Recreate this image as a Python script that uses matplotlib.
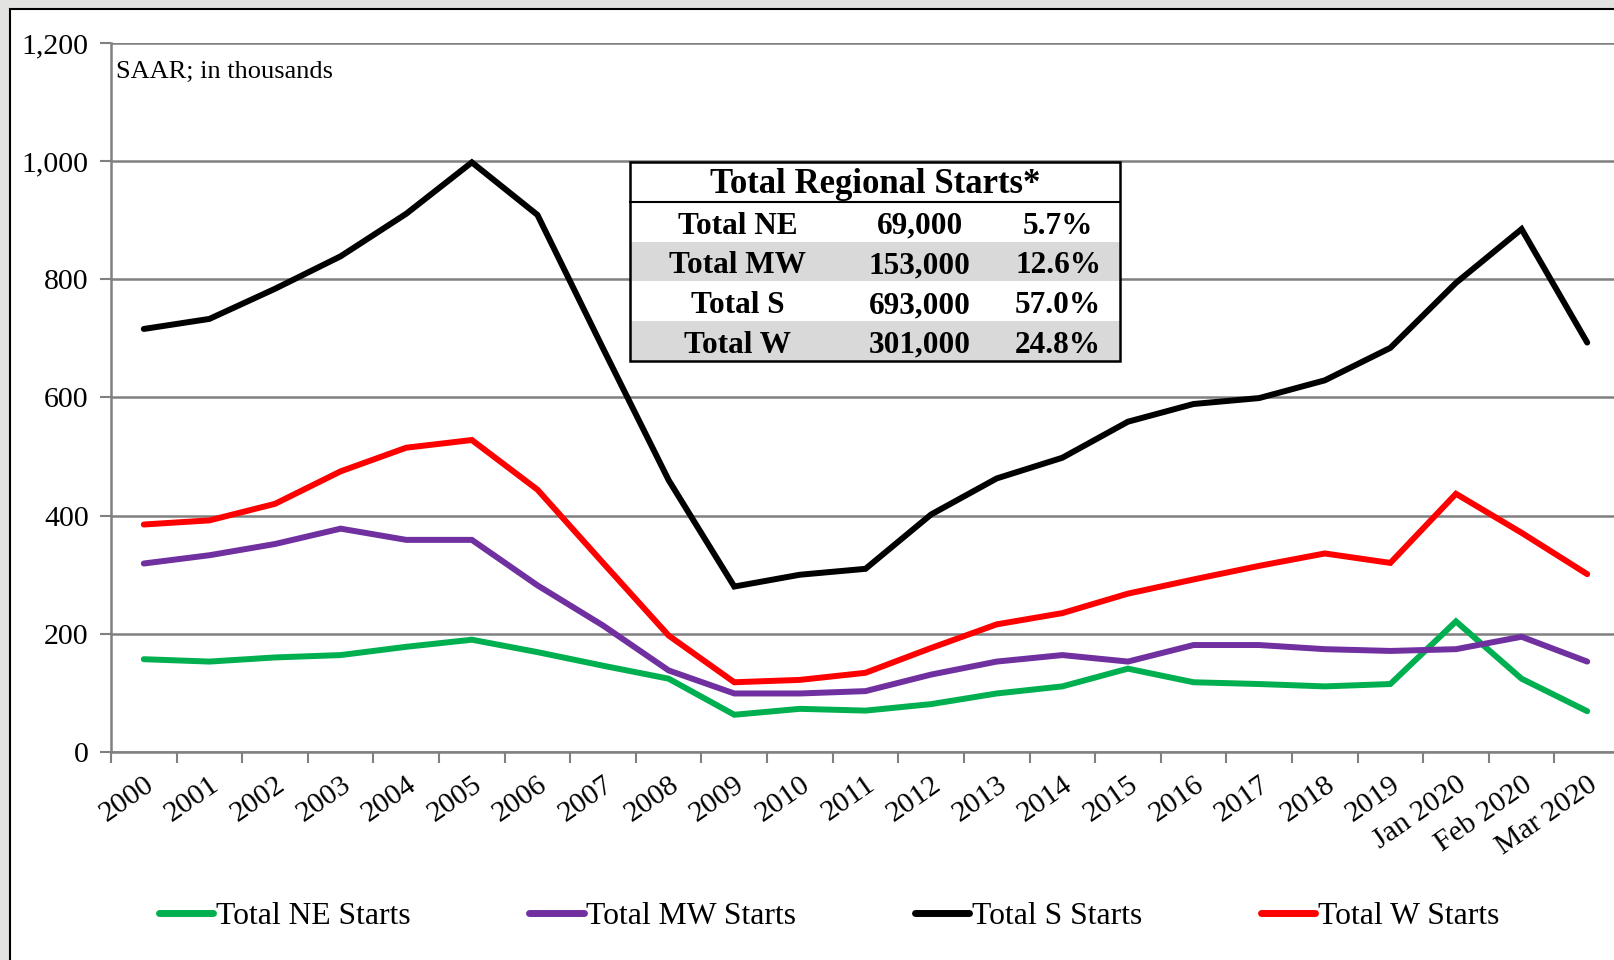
import numpy as np
import matplotlib
matplotlib.use('Agg')
import matplotlib.pyplot as plt
from matplotlib.patches import Rectangle
from matplotlib.ticker import FuncFormatter

plt.rcParams['font.family'] = ['Liberation Serif', 'DejaVu Serif']

# Categories and series (SAAR, thousands)
periods = [str(y) for y in range(2000, 2020)] + ['Jan 2020', 'Feb 2020', 'Mar 2020']
ne_starts = [157, 153, 160, 164, 178, 190, 169, 146, 124, 63, 73, 70, 81, 99, 111, 141,
             118, 115, 111, 115, 221, 124, 69]
mw_starts = [319, 333, 352, 378, 359, 359, 282, 214, 138, 99, 99, 103, 131, 153, 164, 153,
             181, 181, 174, 171, 174, 195, 153]
s_starts = [716, 733, 784, 839, 911, 998, 909, 683, 460, 280, 300, 310, 402, 463, 498, 559,
            589, 599, 629, 684, 794, 885, 693]
w_starts = [385, 392, 420, 475, 515, 528, 444, 320, 197, 118, 122, 134, 176, 216, 235, 268,
            292, 315, 336, 320, 437, 371, 301]

series_names = ['Total NE Starts', 'Total MW Starts', 'Total S Starts', 'Total W Starts']
series_colors = ['#00b050', '#7030a0', '#000000', '#ff0000']

# Summary table
table_title = 'Total Regional Starts*'
table_regions = ['Total NE', 'Total MW', 'Total S', 'Total W']
table_units = ['69,000', '153,000', '693,000', '301,000']
table_shares = ['5.7%', '12.6%', '57.0%', '24.8%']

fig = plt.figure(figsize=(16.14, 9.6), dpi=100)
fig.patch.set_facecolor('#e3e3e1')

# white chart area with black frame
frame = Rectangle((10 / 1614, -0.02), 1.02, 1.02 - 9 / 960,
                  transform=fig.transFigure, facecolor='white',
                  edgecolor='black', linewidth=1.5, zorder=0)
fig.add_artist(frame)

ax = fig.add_axes([111 / 1614, 0.2167, (1620 - 111) / 1614, 0.7385])
ax.set_facecolor('white')

x = np.arange(len(periods))
for vals, name, col in zip([ne_starts, mw_starts, s_starts, w_starts], series_names, series_colors):
    ax.plot(x, vals, color=col, lw=4.3, label=name, solid_joinstyle='miter',
            solid_capstyle='round', zorder=3)

ax.set_xlim(-0.5, len(periods) - 0.5)
ax.set_ylim(0, 1200)
ax.set_yticks(np.arange(0, 1201, 200))
ax.yaxis.set_major_formatter(FuncFormatter(lambda v, p: f'{int(v):,}'))
ax.tick_params(axis='y', length=8, width=1.5, color='#808080', labelsize=21.5, pad=8)
ax.grid(axis='y', color='#808080', lw=1.8, zorder=1)

ax.set_xticks(x)
ax.set_xticklabels(periods, rotation=35, ha='right', rotation_mode='anchor', fontsize=21.5)
ax.tick_params(axis='x', which='major', length=0, pad=14)
ax.set_xticks(np.arange(-0.5, len(periods), 1), minor=True)
ax.tick_params(axis='x', which='minor', length=8, width=1.5, color='#808080')

for s in ['top', 'right']:
    ax.spines[s].set_visible(False)
for s in ['left', 'bottom']:
    ax.spines[s].set_color('#808080')
    ax.spines[s].set_linewidth(1.8)

ax.text(0.003, 0.975, 'SAAR; in thousands', transform=ax.transAxes, fontsize=19,
        va='top', ha='left')

# table box
tx0, tx1 = 0.344, 0.6687
ty_top, ty_bot = 0.832, 0.5515
rh = (ty_top - ty_bot) / 5
ax.add_patch(Rectangle((tx0, ty_bot), tx1 - tx0, ty_top - ty_bot, transform=ax.transAxes,
                       facecolor='white', edgecolor='none', zorder=3.5))
for i in range(len(table_regions)):
    if i % 2 == 1:
        ax.add_patch(Rectangle((tx0, ty_top - (i + 2) * rh), tx1 - tx0, rh,
                               transform=ax.transAxes, facecolor='#d9d9d9',
                               edgecolor='none', zorder=4))
ax.add_patch(Rectangle((tx0, ty_bot), tx1 - tx0, ty_top - ty_bot, transform=ax.transAxes,
                       facecolor='none', edgecolor='black', lw=1.8, zorder=5))
ax.plot([tx0, tx1], [ty_top - rh, ty_top - rh], transform=ax.transAxes, color='black',
        lw=1.5, zorder=5)
ax.text((tx0 + tx1) / 2, ty_top - rh / 2 - 0.004, table_title, transform=ax.transAxes,
        ha='center', va='center', fontsize=25, fontweight='bold', zorder=6)
col_x = [0.4155, 0.536, 0.6276]
for i, row in enumerate(zip(table_regions, table_units, table_shares)):
    yc = ty_top - (i + 1.5) * rh - 0.006
    for cx, txt in zip(col_x, row):
        ax.text(cx, yc, txt, transform=ax.transAxes, ha='center', va='center',
                fontsize=22.5, fontweight='bold', zorder=6)

fig.legend(loc='center', bbox_to_anchor=(0.5137, 0.045), ncol=4, frameon=False,
           fontsize=22.8, handlelength=1.72, handletextpad=0.08, columnspacing=3.75)
for line in fig.legends[0].get_lines():
    line.set_linewidth(5)

fig.savefig('out.png', dpi=100, facecolor=fig.get_facecolor())
